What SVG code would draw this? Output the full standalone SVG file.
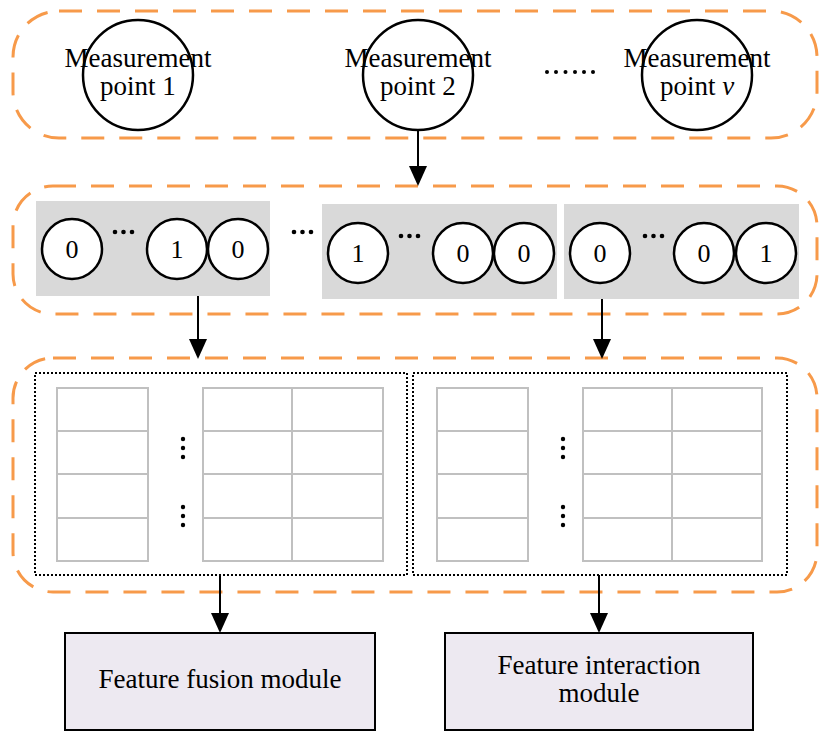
<svg xmlns="http://www.w3.org/2000/svg" width="819" height="731" viewBox="0 0 819 731">
<style>
.grp{fill:none;stroke:#f79a4a;stroke-width:3;stroke-dasharray:23 15}
.c{fill:#fff;stroke:#000;stroke-width:2.5}
.t{font-family:"Liberation Serif","Times New Roman",serif;fill:#000;text-anchor:middle}
.mp{font-size:27px}
.bit{font-size:26px}
.gray{fill:#d9d9d9}
.dot{fill:none;stroke:#000;stroke-width:2;stroke-dasharray:2 2}
.cell{fill:#fff;stroke:#c0c0c0;stroke-width:2}
.ln{stroke:#000;stroke-width:2;fill:none}
.mod{fill:#ede9f1;stroke:#000;stroke-width:2}
.vd{fill:#000}
</style>
<rect class="grp" x="13" y="11" width="804" height="127" rx="46"/>
<rect class="grp" x="13" y="186" width="804" height="128" rx="40"/>
<rect class="grp" x="13" y="358" width="804" height="234" rx="40"/>

<g id="mp1"><circle class="c" cx="138" cy="75" r="55"/><text class="t mp" x="138" y="67">Measurement</text><text class="t mp" x="138" y="95">point 1</text></g>
<g id="mp2"><circle class="c" cx="418" cy="75" r="55"/><text class="t mp" x="418" y="67">Measurement</text><text class="t mp" x="418" y="95">point 2</text></g>
<g id="ellipsis1">
<circle class="vd" cx="547" cy="72" r="2"/><circle class="vd" cx="556" cy="72" r="2"/><circle class="vd" cx="565.5" cy="72" r="2"/><circle class="vd" cx="575" cy="72" r="2"/><circle class="vd" cx="584" cy="72" r="2"/><circle class="vd" cx="593" cy="72" r="2"/>
</g>
<g id="mpv"><circle class="c" cx="697" cy="75" r="55"/><text class="t mp" x="697" y="67">Measurement</text><text class="t mp" x="697" y="95">point <tspan font-style="italic">v</tspan></text></g>

<g id="onehot1">
<rect class="gray" x="36" y="201" width="234" height="95"/>
<circle class="c" cx="72" cy="249" r="30"/><text class="t bit" x="72" y="258">0</text>
<circle class="vd" cx="115" cy="232" r="2.3"/><circle class="vd" cx="123.5" cy="232" r="2.3"/><circle class="vd" cx="132" cy="232" r="2.3"/>
<circle class="c" cx="177" cy="249" r="30"/><text class="t bit" x="177" y="258">1</text>
<circle class="c" cx="238" cy="249" r="30"/><text class="t bit" x="238" y="258">0</text>
</g>
<g id="dots-mid"><circle class="vd" cx="294" cy="232" r="2.3"/><circle class="vd" cx="302.5" cy="232" r="2.3"/><circle class="vd" cx="311" cy="232" r="2.3"/></g>
<g id="onehot2">
<rect class="gray" x="322" y="204" width="235" height="95"/>
<circle class="c" cx="358" cy="253" r="30"/><text class="t bit" x="358" y="262">1</text>
<circle class="vd" cx="401" cy="236" r="2.3"/><circle class="vd" cx="409.5" cy="236" r="2.3"/><circle class="vd" cx="418" cy="236" r="2.3"/>
<circle class="c" cx="463" cy="253" r="30"/><text class="t bit" x="463" y="262">0</text>
<circle class="c" cx="524" cy="253" r="30"/><text class="t bit" x="524" y="262">0</text>
</g>
<g id="onehot3">
<rect class="gray" x="564" y="204" width="235" height="95"/>
<circle class="c" cx="600" cy="253" r="30"/><text class="t bit" x="600" y="262">0</text>
<circle class="vd" cx="645" cy="236" r="2.3"/><circle class="vd" cx="653.5" cy="236" r="2.3"/><circle class="vd" cx="662" cy="236" r="2.3"/>
<circle class="c" cx="704" cy="253" r="30"/><text class="t bit" x="704" y="262">0</text>
<circle class="c" cx="766" cy="253" r="30"/><text class="t bit" x="766" y="262">1</text>
</g>

<g id="emb1">
<rect class="dot" x="35" y="373" width="372" height="202"/>
<rect class="cell" x="57" y="388" width="91" height="43"/>
<rect class="cell" x="57" y="431" width="91" height="43"/>
<rect class="cell" x="57" y="474" width="91" height="44"/>
<rect class="cell" x="57" y="518" width="91" height="43"/>
<rect class="cell" x="203" y="388" width="89" height="43"/><rect class="cell" x="292" y="388" width="91" height="43"/>
<rect class="cell" x="203" y="431" width="89" height="43"/><rect class="cell" x="292" y="431" width="91" height="43"/>
<rect class="cell" x="203" y="474" width="89" height="44"/><rect class="cell" x="292" y="474" width="91" height="44"/>
<rect class="cell" x="203" y="518" width="89" height="43"/><rect class="cell" x="292" y="518" width="91" height="43"/>
<circle class="vd" cx="183" cy="439" r="2.2"/><circle class="vd" cx="183" cy="448" r="2.2"/><circle class="vd" cx="183" cy="457" r="2.2"/>
<circle class="vd" cx="183" cy="507" r="2.2"/><circle class="vd" cx="183" cy="516" r="2.2"/><circle class="vd" cx="183" cy="525" r="2.2"/>
</g>
<g id="emb2">
<rect class="dot" x="413" y="373" width="374" height="202"/>
<rect class="cell" x="437" y="388" width="91" height="43"/>
<rect class="cell" x="437" y="431" width="91" height="43"/>
<rect class="cell" x="437" y="474" width="91" height="44"/>
<rect class="cell" x="437" y="518" width="91" height="43"/>
<rect class="cell" x="583" y="388" width="89" height="43"/><rect class="cell" x="672" y="388" width="90" height="43"/>
<rect class="cell" x="583" y="431" width="89" height="43"/><rect class="cell" x="672" y="431" width="90" height="43"/>
<rect class="cell" x="583" y="474" width="89" height="44"/><rect class="cell" x="672" y="474" width="90" height="44"/>
<rect class="cell" x="583" y="518" width="89" height="43"/><rect class="cell" x="672" y="518" width="90" height="43"/>
<circle class="vd" cx="563" cy="439" r="2.2"/><circle class="vd" cx="563" cy="448" r="2.2"/><circle class="vd" cx="563" cy="457" r="2.2"/>
<circle class="vd" cx="563" cy="507" r="2.2"/><circle class="vd" cx="563" cy="516" r="2.2"/><circle class="vd" cx="563" cy="525" r="2.2"/>
</g>

<g id="fusion"><rect class="mod" x="65" y="633" width="310" height="97"/><text class="t mp" x="220" y="688">Feature fusion module</text></g>
<g id="interaction"><rect class="mod" x="445" y="633" width="308" height="97"/><text class="t mp" x="599" y="674">Feature interaction</text><text class="t mp" x="599" y="702">module</text></g>

<g id="connectors">
<line class="ln" x1="418" y1="131" x2="418" y2="168"/><polygon points="409,166 427,166 418,186"/>
<line class="ln" x1="198" y1="296" x2="198" y2="341"/><polygon points="189,339 207,339 198,359"/>
<line class="ln" x1="602" y1="299" x2="602" y2="341"/><polygon points="593,339 611,339 602,359"/>
<line class="ln" x1="220" y1="575" x2="220" y2="615"/><polygon points="211,613 229,613 220,633"/>
<line class="ln" x1="599" y1="575" x2="599" y2="615"/><polygon points="590,613 608,613 599,633"/>
</g>
</svg>
